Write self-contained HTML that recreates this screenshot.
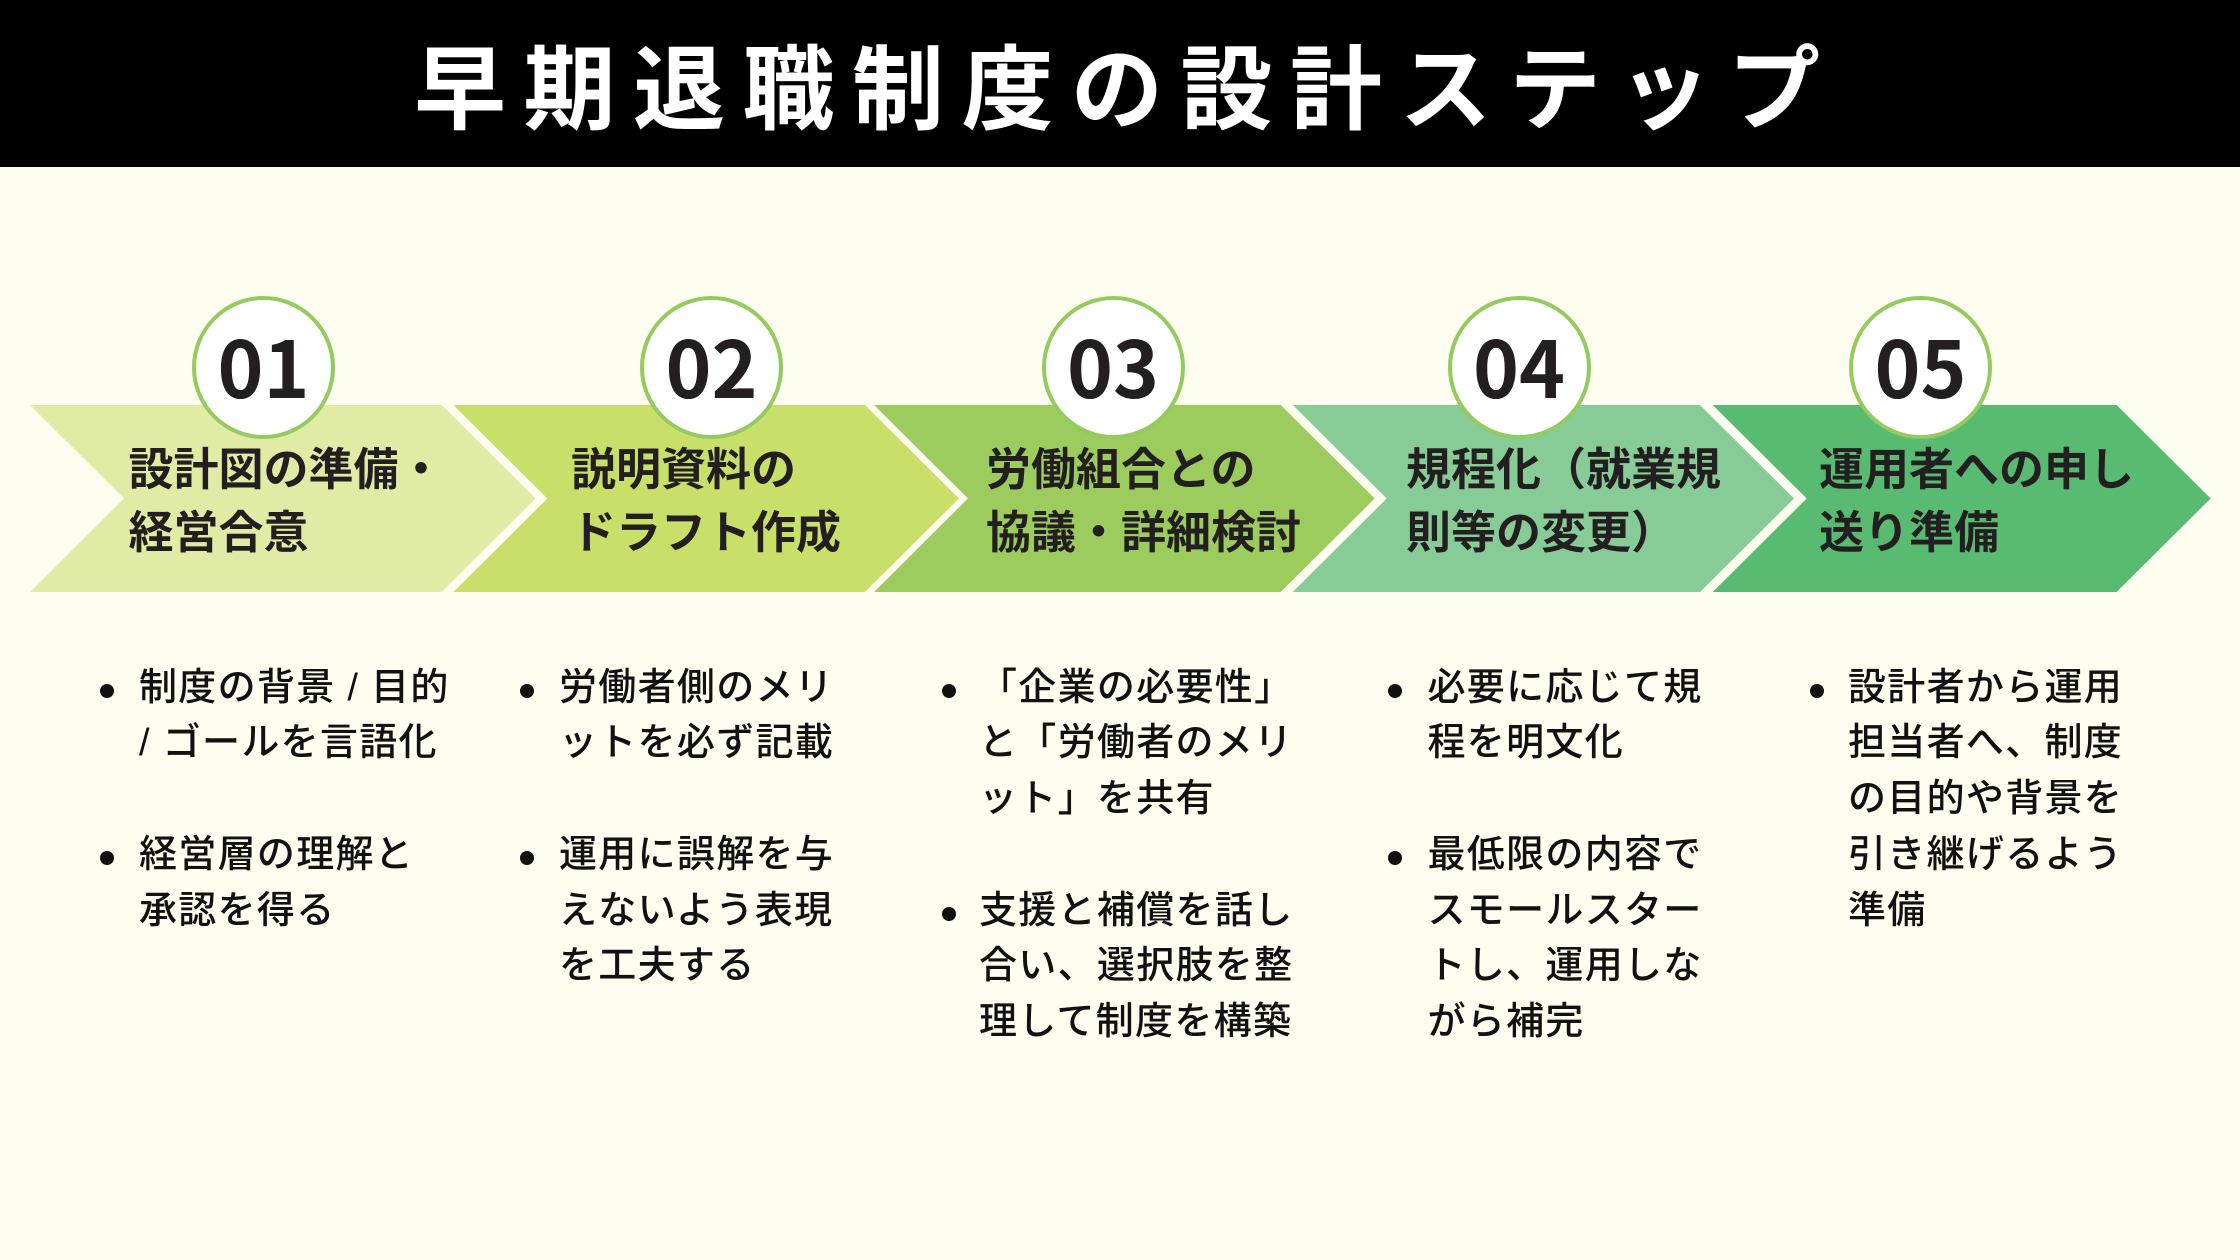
<!DOCTYPE html>
<html lang="ja">
<head>
<meta charset="utf-8">
<style>
  html,body{margin:0;padding:0;}
  body{width:2240px;height:1260px;background:#fffdf0;position:relative;overflow:hidden;
    font-family:"Liberation Sans","Noto Sans CJK JP",sans-serif;}
  .hdr{position:absolute;left:0;top:0;width:2240px;height:167px;background:#000;}
  .title{position:absolute;left:414px;top:37px;font-size:92px;line-height:92px;font-weight:700;
    color:#fff;letter-spacing:17.5px;white-space:nowrap;
    font-family:"Noto Sans CJK JP",sans-serif;}
  svg.arr{position:absolute;left:0;top:0;}
  .circle{position:absolute;width:143px;height:143px;box-sizing:border-box;border:4px solid #94cb5f;
    border-radius:50%;background:#fff;display:flex;align-items:center;justify-content:center;}
  .circle span{font-family:"Noto Sans CJK JP","Liberation Sans",sans-serif;font-weight:700;font-size:78px;
    line-height:78px;color:#231f20;position:relative;top:-3px;}
  .lbl{position:absolute;top:439px;font-size:45px;line-height:62.5px;font-weight:700;color:#231f20;
    white-space:nowrap;font-family:"Liberation Sans","Noto Sans CJK JP",sans-serif;}
  .col{position:absolute;top:660.5px;font-size:38px;line-height:55.8px;color:#111;letter-spacing:1.3px;
    white-space:nowrap;font-family:"Liberation Sans","Noto Sans CJK JP",sans-serif;font-weight:500;}
  .dot{position:absolute;width:14px;height:14px;border-radius:50%;background:#111;}
</style>
</head>
<body>
<div class="hdr"></div>
<div class="title">早期退職制度の設計ステップ</div>

<svg class="arr" width="2240" height="1260" viewBox="0 0 2240 1260">
  <polygon fill="#e0eca5" points="30,405 441.7,405 535.7,498.5 441.7,592 30,592 124,498.5"/>
  <polygon fill="#c8e069" points="453.3,405 865,405 959,498.5 865,592 453.3,592 547.3,498.5"/>
  <polygon fill="#9ccb5e" points="874,405 1280.7,405 1374.7,498.5 1280.7,592 874,592 968,498.5"/>
  <polygon fill="#87cc96" points="1292.7,405 1700,405 1794,498.5 1700,592 1292.7,592 1386.7,498.5"/>
  <polygon fill="#59bb72" points="1712.7,405 2116.7,405 2210.7,498.5 2116.7,592 1712.7,592 1806.7,498.5"/>
</svg>

<div class="circle" style="left:192px;top:296px;"><span>01</span></div>
<div class="circle" style="left:640px;top:296px;"><span>02</span></div>
<div class="circle" style="left:1041.5px;top:296px;"><span>03</span></div>
<div class="circle" style="left:1447.5px;top:296px;"><span>04</span></div>
<div class="circle" style="left:1849px;top:296px;"><span>05</span></div>

<div class="lbl" style="left:128.5px;">設計図の準備・<br>経営合意</div>
<div class="lbl" style="left:571px;">説明資料の<br>ドラフト作成</div>
<div class="lbl" style="left:986px;">労働組合との<br>協議・詳細検討</div>
<div class="lbl" style="left:1406px;">規程化（就業規<br>則等の変更）</div>
<div class="lbl" style="left:1819px;">運用者への申し<br>送り準備</div>

<div class="dot" style="left:100px;top:683.5px;"></div>
<div class="dot" style="left:100px;top:850.9px;"></div>

<div class="dot" style="left:520.3px;top:683.5px;"></div>
<div class="dot" style="left:520.3px;top:850.9px;"></div>

<div class="dot" style="left:941.5px;top:683.5px;"></div>
<div class="dot" style="left:941.5px;top:906.7px;"></div>

<div class="dot" style="left:1388px;top:683.5px;"></div>
<div class="dot" style="left:1388px;top:850.9px;"></div>

<div class="dot" style="left:1809.7px;top:683.5px;"></div>

<div class="col" style="left:139px;">制度の背景 / 目的<br>/ ゴールを言語化<br>&nbsp;<br>経営層の理解と<br>承認を得る</div>
<div class="col" style="left:559px;">労働者側のメリ<br>ットを必ず記載<br>&nbsp;<br>運用に誤解を与<br>えないよう表現<br>を工夫する</div>
<div class="col" style="left:979px;">「企業の必要性」<br>と「労働者のメリ<br>ット」を共有<br>&nbsp;<br>支援と補償を話し<br>合い、選択肢を整<br>理して制度を構築</div>
<div class="col" style="left:1427.5px;">必要に応じて規<br>程を明文化<br>&nbsp;<br>最低限の内容で<br>スモールスター<br>トし、運用しな<br>がら補完</div>
<div class="col" style="left:1848px;">設計者から運用<br>担当者へ、制度<br>の目的や背景を<br>引き継げるよう<br>準備</div>
</body>
</html>
